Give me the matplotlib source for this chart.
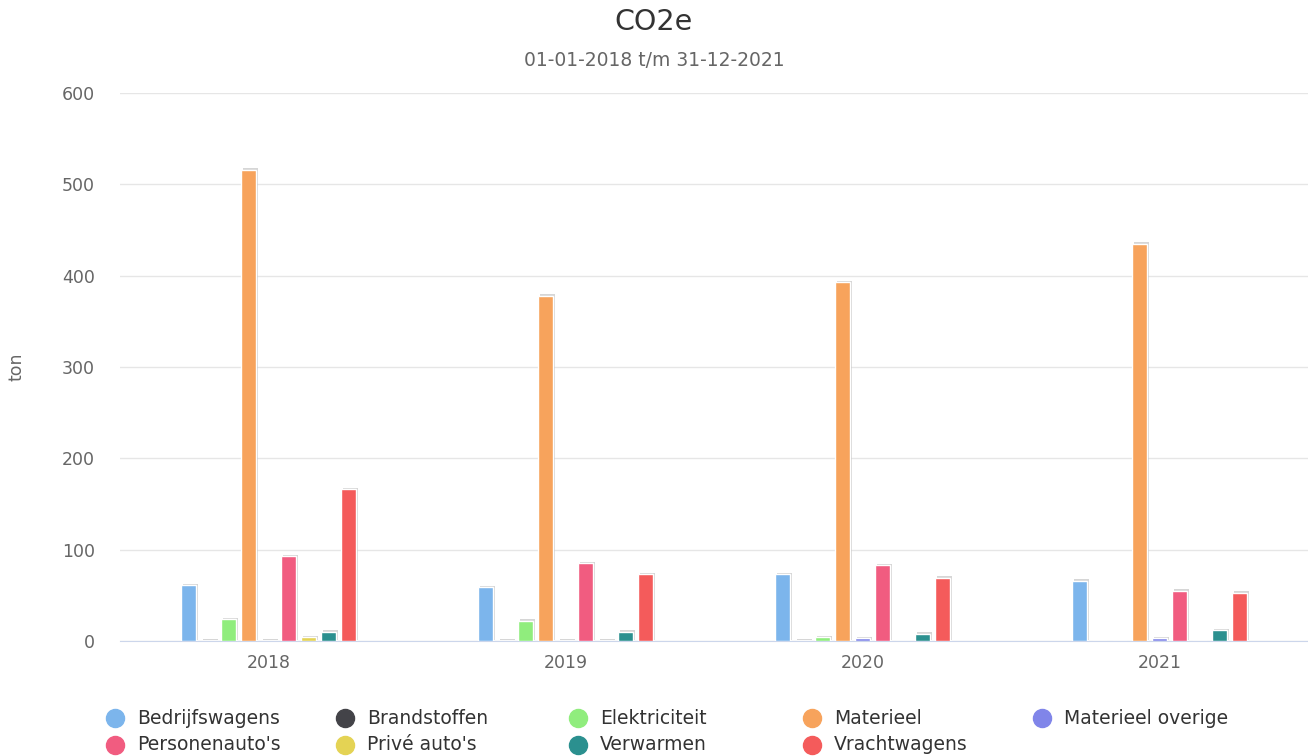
import numpy as np
import matplotlib.pyplot as plt
import matplotlib.transforms as mtransforms

years = ['2018', '2019', '2020', '2021']
series = ['Bedrijfswagens', 'Brandstoffen', 'Elektriciteit', 'Materieel', 'Materieel overige',
          "Personenauto's", "Privé auto's", 'Verwarmen', 'Vrachtwagens']
colors = ['#7cb5ec', '#434348', '#90ed7d', '#f7a35c', '#8085e9',
          '#f15c80', '#e4d354', '#2b908f', '#f45b5b']

bedrijfswagens = [61, 59, 73, 66]
brandstoffen = [0.4, 0.4, 0.4, 0]
elektriciteit = [24, 22, 4, 0]
materieel = [516, 378, 393, 435]
materieel_overige = [0.4, 0.4, 3, 3]
personenautos = [93, 85, 83, 55]
prive_autos = [4, 0.3, 0, 0]
verwarmen = [10, 10, 8, 12]
vrachtwagens = [166, 73, 69, 53]

values = [bedrijfswagens, brandstoffen, elektriciteit, materieel, materieel_overige,
          personenautos, prive_autos, verwarmen, vrachtwagens]

fig = plt.figure(figsize=(13.08, 7.56), dpi=100)
ax = fig.add_axes([120 / 1308, 1 - 641 / 756, 1188 / 1308, 548 / 756])

x = np.arange(len(years))
n = len(series)
step = 0.0673
width = 0.05
shadow = mtransforms.offset_copy(ax.transData, fig=fig, x=2, y=1.5, units='dots')
for i, (name, vals, c) in enumerate(zip(series, values, colors)):
    pos = x + (i - (n - 1) / 2) * step
    ax.bar(pos, vals, width, color='#bbbbbb', alpha=0.6, transform=shadow, zorder=2)
    ax.bar(pos, vals, width, color=c, edgecolor='white', linewidth=1, zorder=3, label=name)

ax.set_xlim(-0.5, 3.5)
ax.set_ylim(0, 600)
ax.set_yticks([0, 100, 200, 300, 400, 500, 600])
ax.set_xticks(x)
ax.set_xticklabels(years)
ax.grid(axis='y', color='#e6e6e6', linewidth=1, zorder=0)
ax.set_axisbelow(True)
for s in ['top', 'right', 'left']:
    ax.spines[s].set_visible(False)
ax.spines['bottom'].set_color('#ccd6eb')
ax.tick_params(axis='y', length=0, labelsize=12.5, labelcolor='#666666', pad=18)
ax.tick_params(axis='x', length=0, labelsize=12.5, labelcolor='#666666', pad=9)

fig.text(17 / 1308, 1 - 367 / 756, 'ton', rotation=90, ha='center', va='center',
         fontsize=12.5, color='#666666')
fig.text(0.5, 1 - 22 / 756, 'CO2e', ha='center', va='center', fontsize=20.5, color='#333333')
fig.text(0.5, 1 - 61 / 756, '01-01-2018 t/m 31-12-2021', ha='center', va='center',
         fontsize=13.5, color='#666666')

legend_x = [115, 345, 578, 812, 1042]
for i, name in enumerate(series):
    col = i % 5
    row = i // 5
    px = legend_x[col]
    py = 718 + row * 27
    fig.lines.append(plt.Line2D([px / 1308], [1 - py / 756], marker='o', markersize=13,
                                color=colors[i], transform=fig.transFigure))
    fig.text((px + 22) / 1308, 1 - py / 756, name, ha='left', va='center',
             fontsize=13.5, color='#333333')

fig.savefig('out.png', dpi=100)
